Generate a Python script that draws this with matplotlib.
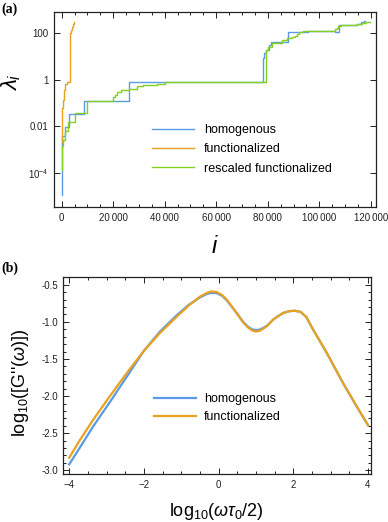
import matplotlib
matplotlib.use("Agg")
import matplotlib.pyplot as plt
from matplotlib.ticker import FixedLocator, FixedFormatter, MultipleLocator
import numpy as np

plt.rcParams["font.family"] = ["Liberation Sans", "DejaVu Sans"]
plt.rcParams["mathtext.fontset"] = "custom"
plt.rcParams["mathtext.rm"] = "Liberation Sans"
plt.rcParams["mathtext.it"] = "Liberation Sans:italic"

BLUE = "#5b9ae6"
ORANGE = "#e9a21f"
GREEN = "#83d11f"

# panel (a): eigenvalue index i and log10(lambda_i), drawn as steps
homog_i = [0, 300, 1200, 2850, 8800, 26100, 78300, 78700, 79400, 80300, 81200,
           84700, 85300, 88000, 95800, 106000, 107800, 114500, 116200, 117200, 117600]
homog_log = [-4.95, -2.4, -2.03, -1.49, -0.91, -0.09, 0.95, 1.15, 1.3, 1.5, 1.64,
             1.6, 1.64, 2.07, 2.1, 2.05, 2.36, 2.4, 2.48, 2.55, 2.55]

func_i = [0, 150, 300, 500, 800, 1300, 1900, 3200, 3400, 3700, 4100, 4500, 4800]
func_log = [-2.7, -1.75, -1.2, -0.88, -0.45, -0.16, -0.09, 1.42, 2.0, 2.14, 2.29, 2.4, 2.5]

resc_i = [0, 300, 600, 1300, 2400, 5000, 9700, 20000, 20600, 21400, 23000, 26100,
          29100, 31500, 34300, 37000, 40100, 79500, 80200, 81500, 83000, 85400,
          87400, 89500, 90600, 91500, 92300, 93800, 106200, 106800, 107400, 108500,
          112000, 114500, 116500, 118000, 119500]
resc_log = [-3.9, -2.83, -2.6, -2.22, -1.82, -1.43, -0.91, -0.75, -0.64, -0.52, -0.45, -0.38,
            -0.28, -0.24, -0.21, -0.17, -0.09, 1.28, 1.42, 1.57, 1.6, 1.71,
            1.78, 1.85, 1.9, 1.97, 2.06, 2.1, 2.17, 2.24, 2.3, 2.36,
            2.38, 2.42, 2.45, 2.48, 2.5]

# panel (b): log10(omega tau0 / 2) vs log10(G'')
w_log = [-4.0, -3.71, -3.36, -2.91, -2.46, -2.0, -1.57, -1.12, -0.8, -0.5, -0.32, -0.2,
         -0.05, 0.1, 0.22, 0.44, 0.66, 0.8, 0.9, 1.0, 1.1, 1.2, 1.3, 1.46, 1.6, 1.73,
         1.9, 2.05, 2.2, 2.35, 2.54, 2.9, 3.34, 3.7, 4.0]
g_homog = [-2.92, -2.69, -2.41, -2.08, -1.74, -1.39, -1.13, -0.91, -0.77, -0.67, -0.625, -0.607,
           -0.612, -0.65, -0.71, -0.85, -1.0, -1.07, -1.1, -1.11, -1.105, -1.08, -1.05, -0.97, -0.92, -0.88,
           -0.855, -0.85, -0.865, -0.935, -1.11, -1.42, -1.83, -2.14, -2.39]
g_func = [-2.83, -2.59, -2.32, -2.0, -1.69, -1.39, -1.15, -0.93, -0.78, -0.66, -0.61, -0.59,
          -0.597, -0.64, -0.70, -0.85, -1.01, -1.08, -1.115, -1.13, -1.12, -1.09, -1.055, -0.97, -0.92, -0.88,
          -0.855, -0.85, -0.865, -0.935, -1.11, -1.42, -1.83, -2.14, -2.39]

fig = plt.figure(figsize=(3.88, 5.22), dpi=100)
axa = fig.add_axes([0.139, 0.6034, 0.830, 0.3736])
axb = fig.add_axes([0.163, 0.092, 0.792, 0.378])

axa.plot(homog_i, 10.0 ** np.array(homog_log), drawstyle="steps-post", color=BLUE, lw=1.0, label="homogenous")
axa.plot(func_i, 10.0 ** np.array(func_log), drawstyle="steps-post", color=ORANGE, lw=1.0, label="functionalized")
axa.plot(resc_i, 10.0 ** np.array(resc_log), drawstyle="steps-post", color=GREEN, lw=1.0, label="rescaled functionalized")
axa.set_yscale("log")
axa.set_xlim(-3000, 122000)
axa.set_ylim(10 ** -5.48, 10 ** 2.92)

xt = [0, 20000, 40000, 60000, 80000, 100000, 120000]
xt_labels = ["0", "20\u2009000", "40\u2009000", "60\u2009000", "80\u2009000", "100\u2009000", "120\u2009000"]
axa.xaxis.set_major_locator(FixedLocator(xt))
axa.xaxis.set_major_formatter(FixedFormatter(xt_labels))
axa.xaxis.set_minor_locator(MultipleLocator(5000))
yt = [1e-4, 1e-2, 1, 100]
yt_labels = ["$10^{-4}$", "0.01", "1", "100"]
axa.yaxis.set_major_locator(FixedLocator(yt))
axa.yaxis.set_major_formatter(FixedFormatter(yt_labels))
axa.yaxis.set_minor_locator(FixedLocator([]))
axa.set_xlabel("$i$", fontsize=17, labelpad=10)
axa.set_ylabel(r"$\lambda_i$", fontsize=16)
axa.yaxis.set_label_coords(-0.095, 0.64)

axa.legend(loc="upper left", bbox_to_anchor=(0.303, 0.425), frameon=False, fontsize=9,
           handlelength=3.4, handletextpad=0.8, labelspacing=0.58, borderpad=0, borderaxespad=0)

axb.plot(w_log, g_homog, color=BLUE, lw=1.6, label="homogenous")
axb.plot(w_log, g_func, color=ORANGE, lw=1.6, label="functionalized")
axb.set_xlim(-4.16, 4.07)
axb.set_ylim(-3.05, -0.39)
axb.xaxis.set_major_locator(MultipleLocator(2))
axb.xaxis.set_minor_locator(MultipleLocator(0.5))
axb.yaxis.set_major_locator(MultipleLocator(0.5))
axb.yaxis.set_minor_locator(MultipleLocator(0.1))
axb.yaxis.set_major_formatter(matplotlib.ticker.FormatStrFormatter("%.1f"))
axb.set_xlabel(r"log$_{10}$($\omega\tau_0$/2)", fontsize=13, labelpad=8)
axb.set_ylabel(r"log$_{10}$([G''($\omega$)])", fontsize=13)
axb.yaxis.set_label_coords(-0.105, 0.46)
axb.legend(loc="upper left", bbox_to_anchor=(0.295, 0.41), frameon=False, fontsize=9,
           handlelength=3.4, handletextpad=0.6, labelspacing=0.5, borderpad=0, borderaxespad=0)

for ax in (axa, axb):
    ax.tick_params(which="both", direction="in", top=True, right=True, colors="#222222",
                   labelsize=7, width=0.7)
    ax.tick_params(which="major", length=4, pad=4)
    ax.tick_params(which="minor", length=2)
    for sp in ax.spines.values():
        sp.set_linewidth(0.9)
        sp.set_color("#222222")

fig.text(0.004, 0.996, "(a)", fontsize=10, fontweight="bold", family="Liberation Serif", va="top")
fig.text(0.004, 0.499, "(b)", fontsize=10, fontweight="bold", family="Liberation Serif", va="top")

fig.savefig("out.png", dpi=100)
